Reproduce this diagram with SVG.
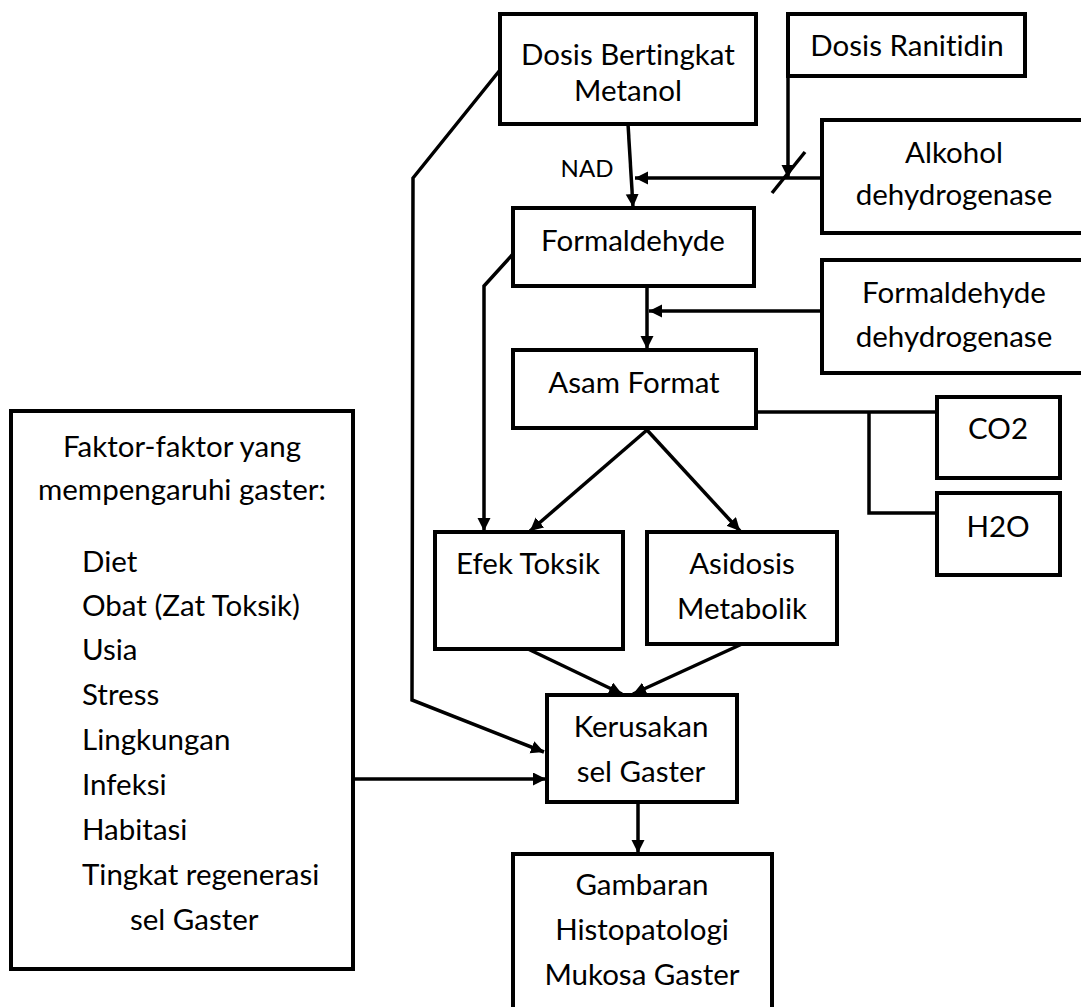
<svg xmlns="http://www.w3.org/2000/svg" width="1081" height="1007" viewBox="0 0 1081 1007">
<defs>
<marker id="ah" markerUnits="userSpaceOnUse" markerWidth="14" markerHeight="14" refX="13" refY="6.5" orient="auto">
<path d="M0,0 L13,6.5 L0,13 z" fill="#000"/>
</marker>
<style>
.box{fill:#fff;stroke:#000;stroke-width:4}
.t{font-family:Lato,"Open Sans","DejaVu Sans",sans-serif;font-size:29.5px;fill:#000;text-anchor:middle;font-variant-ligatures:none}
.l{text-anchor:start}
.c{fill:none;stroke:#000;stroke-width:3.5}
.a{marker-end:url(#ah)}
</style>
</defs>
<rect width="1081" height="1007" fill="#fff"/>
<g id="connectors">
<line class="c a" x1="628" y1="124" x2="633" y2="207"/>
<line class="c a" x1="822" y1="178" x2="635" y2="178"/>
<line class="c a" x1="788" y1="76" x2="788" y2="178"/>
<line class="c" x1="805" y1="152" x2="772" y2="193"/>
<polyline class="c a" points="500,70 413,178 412,700 544,752"/>
<polyline class="c a" points="513,254 484,286 484,531"/>
<line class="c a" x1="647" y1="286" x2="647" y2="349"/>
<line class="c a" x1="822" y1="311" x2="649" y2="311"/>
<line class="c a" x1="647" y1="430" x2="530" y2="531"/>
<line class="c a" x1="647" y1="430" x2="740" y2="531"/>
<line class="c" x1="756" y1="412" x2="937" y2="412"/>
<polyline class="c" points="869,412 869,513 937,513"/>
<line class="c a" x1="528" y1="649" x2="622" y2="694"/>
<line class="c a" x1="742" y1="644" x2="633" y2="694"/>
<line class="c a" x1="353" y1="779" x2="546" y2="779"/>
<line class="c a" x1="638" y1="802" x2="638" y2="853"/>
</g>
<g id="dosis-metanol">
<rect class="box" x="500" y="14" width="256" height="110"/>
<text class="t" x="628" y="65">Dosis Bertingkat</text>
<text class="t" x="628" y="101">Metanol</text>
</g>
<g id="dosis-ranitidin">
<rect class="box" x="788" y="14" width="237" height="62"/>
<text class="t" x="907" y="56">Dosis Ranitidin</text>
</g>
<g id="nad">
<text class="t" x="587" y="177" style="font-size:24px">NAD</text>
</g>
<g id="alkohol-dh">
<rect class="box" x="822" y="120" width="270" height="113"/>
<text class="t" x="954" y="163">Alkohol</text>
<text class="t" x="954" y="205">dehydrogenase</text>
</g>
<g id="formaldehyde">
<rect class="box" x="513" y="208" width="241" height="78"/>
<text class="t" x="633" y="251">Formaldehyde</text>
</g>
<g id="formaldehyde-dh">
<rect class="box" x="822" y="260" width="270" height="113"/>
<text class="t" x="954" y="303">Formaldehyde</text>
<text class="t" x="954" y="347">dehydrogenase</text>
</g>
<g id="asam-format">
<rect class="box" x="513" y="350" width="243" height="78"/>
<text class="t" x="634" y="393">Asam Format</text>
</g>
<g id="co2">
<rect class="box" x="937" y="397" width="123" height="81"/>
<text class="t" x="998" y="439">CO2</text>
</g>
<g id="h2o">
<rect class="box" x="937" y="493" width="123" height="82"/>
<text class="t" x="998" y="537">H2O</text>
</g>
<g id="efek-toksik">
<rect class="box" x="435" y="532" width="188" height="117"/>
<text class="t" x="528" y="574">Efek Toksik</text>
</g>
<g id="asidosis">
<rect class="box" x="647" y="532" width="190" height="112"/>
<text class="t" x="742" y="574">Asidosis</text>
<text class="t" x="742" y="619">Metabolik</text>
</g>
<g id="kerusakan">
<rect class="box" x="547" y="695" width="190" height="107"/>
<text class="t" x="641" y="737">Kerusakan</text>
<text class="t" x="641" y="782">sel Gaster</text>
</g>
<g id="gambaran">
<rect class="box" x="513" y="854" width="259" height="165"/>
<text class="t" x="642" y="895">Gambaran</text>
<text class="t" x="642" y="940">Histopatologi</text>
<text class="t" x="642" y="985">Mukosa Gaster</text>
</g>
<g id="faktor">
<rect class="box" x="11" y="411" width="342" height="558"/>
<text class="t" x="182" y="457">Faktor-faktor yang</text>
<text class="t" x="182" y="500">mempengaruhi gaster:</text>
<text class="t l" x="82" y="572">Diet</text>
<text class="t l" x="82" y="616">Obat (Zat Toksik)</text>
<text class="t l" x="82" y="660">Usia</text>
<text class="t l" x="82" y="705">Stress</text>
<text class="t l" x="82" y="750">Lingkungan</text>
<text class="t l" x="82" y="795">Infeksi</text>
<text class="t l" x="82" y="840">Habitasi</text>
<text class="t l" x="82" y="885">Tingkat regenerasi</text>
<text class="t l" x="130" y="930">sel Gaster</text>
</g>
</svg>
